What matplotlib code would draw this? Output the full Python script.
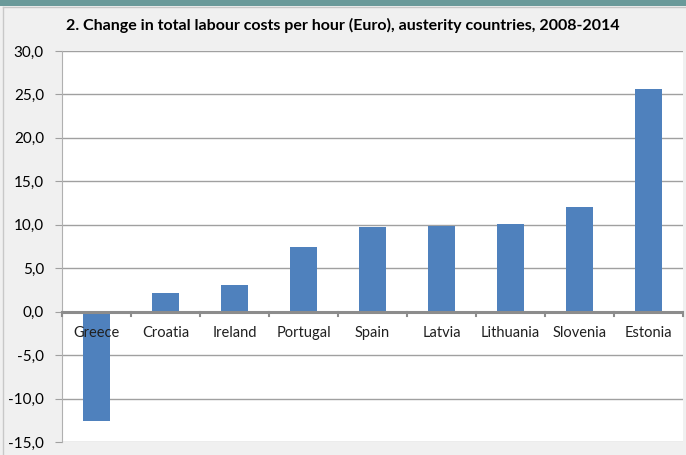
import numpy as np
import matplotlib.pyplot as plt
from matplotlib.patches import Rectangle

# Datos
countries = ['Greece', 'Croatia', 'Ireland', 'Portugal', 'Spain',
             'Latvia', 'Lithuania', 'Slovenia', 'Estonia']
change = [-12.6, 2.1, 3.1, 7.4, 9.7, 9.9, 10.1, 12.1, 25.6]
yticks = [-15, -10, -5, 0, 5, 10, 15, 20, 25, 30]

plt.rcParams['font.family'] = ['Lato', 'DejaVu Sans']

fig = plt.figure(figsize=(6.86, 4.55), dpi=100, facecolor='#f0f0f0')

# top band and chart-area border
fig.patches.append(Rectangle((0, 0.987), 1, 0.013, transform=fig.transFigure,
                             facecolor='#6a9a9a', edgecolor='none', zorder=0))
fig.add_artist(plt.Line2D([0.005, 0.005], [0, 0.985], color='#c8c8c8', lw=1))
fig.add_artist(plt.Line2D([0.005, 1], [0.985, 0.985], color='#c8c8c8', lw=1))

ax = fig.add_axes([0.0904, 0.0286, 0.9052, 0.8594])
x = np.arange(len(countries))
ax.bar(x, change, width=0.4, color='#4f81bd', zorder=3)

ax.set_xlim(-0.5, len(countries) - 0.5)
ax.set_ylim(-15, 30)
ax.set_yticks(yticks)
ax.set_yticklabels([f'{v:.1f}'.replace('.', ',') for v in yticks], fontsize=11)
ax.yaxis.grid(True, color='#a0a0a0', lw=1)
ax.set_axisbelow(True)
ax.tick_params(axis='y', length=5, color='#a0a0a0', pad=8)

# zero line with category separators
ax.axhline(0, color='#8c8c8c', lw=2.2, zorder=4)
ax.set_xticks([])
for b in np.arange(-0.5, len(countries), 1):
    ax.plot([b, b], [0, -0.5], color='#8c8c8c', lw=1.5, zorder=4, clip_on=False)
for xi, name in zip(x, countries):
    ax.text(xi, -1.6, name, ha='center', va='top', fontsize=10.5, color='#202020', zorder=5)

for s in ['top', 'right', 'bottom']:
    ax.spines[s].set_visible(False)
ax.spines['left'].set_color('#b0b0b0')

fig.text(0.5, 0.945, '2. Change in total labour costs per hour (Euro), austerity countries, 2008-2014',
         ha='center', va='center', fontsize=11.5, fontweight='bold')

fig.savefig('out.png', dpi=100, facecolor=fig.get_facecolor())
